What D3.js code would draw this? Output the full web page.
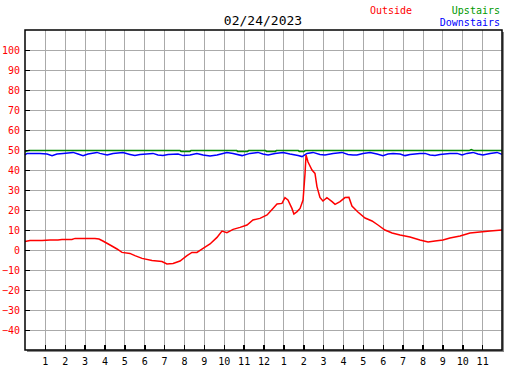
<!DOCTYPE html>
<html>
<head>
<meta charset="utf-8">
<script src="https://cdn.jsdelivr.net/npm/d3@7"></script>
<style>
  body { margin: 0; background: #fff; }
  text { font-family: "DejaVu Sans Mono", monospace; }
  .grid line { stroke: #aaa; stroke-width: 1; shape-rendering: crispEdges; }
  .axis line { stroke: #000; stroke-width: 1.5; shape-rendering: crispEdges; }
  .axis text { font-size: 10px; }
</style>
</head>
<body>
<svg width="527" height="370"></svg>
<script>
// hours of day (0 = midnight) and readings
const hourLabels = [1,2,3,4,5,6,7,8,9,10,11,12,1,2,3,4,5,6,7,8,9,10,11];
const tempTicks = [100,90,80,70,60,50,40,30,20,10,0,-10,-20,-30,-40];

const outsideHours = [0,0.25,0.86,1.26,1.66,1.86,2.36,2.52,3.52,3.72,3.92,4.28,4.63,4.88,5.28,5.53,5.89,6.39,6.89,7.14,7.45,7.8,8.15,8.4,8.65,8.96,9.31,9.66,9.91,10.16,10.47,10.82,11.17,11.47,11.82,12.18,12.43,12.68,12.93,13.08,13.23,13.43,13.53,13.69,13.84,13.99,14.09,14.14,14.24,14.44,14.59,14.69,14.84,14.99,15.19,15.45,15.6,15.85,16.1,16.3,16.45,16.75,17.11,17.46,17.76,18.11,18.47,18.87,19.37,19.87,20.28,20.63,21.03,21.38,21.89,22.39,22.89,23.4,24];
const outsideTemps = [4.2,4.7,4.8,5,5,5.3,5.3,5.8,5.8,5.5,4.5,2.5,0.5,-1.2,-1.7,-2.8,-4.2,-5.3,-5.8,-7,-6.7,-5.5,-2.8,-1.2,-1.2,0.8,3,6.3,9.5,8.7,10.3,11.3,12.5,15,15.8,17.5,20.3,23,23.3,26.2,25,20.8,18,19.2,20.8,25,38.3,47.5,44,40,38.3,31.7,26.3,24.5,26.2,24.2,22.8,24.2,26.2,26.3,22,19,16,14.5,12.5,10,8.5,7.5,6.5,5,4,4.5,5,6,7,8.5,9,9.5,10];

const upstairsHours = [0,0.2,7.8,7.85,8.3,8.35,10.65,10.7,11.2,11.25,12.1,12.15,12.6,12.65,13.75,13.8,14.05,14.1,22.35,22.45,22.6,24];
const upstairsTemps = [49.3,49.7,49.7,49.3,49.3,49.7,49.7,49.3,49.3,49.7,49.7,49.3,49.3,49.7,49.7,49.3,49.3,49.7,49.7,50.2,49.7,49.7];

const downstairsHours = [0,0.1,0.75,1.11,1.36,1.61,1.91,2.42,2.67,2.92,3.17,3.62,3.77,4.13,4.43,4.93,5.28,5.53,5.79,6.44,6.69,6.94,7.2,7.7,7.95,8.3,8.65,8.96,9.31,9.66,10.16,10.47,10.92,11.32,11.72,11.97,12.23,12.58,12.98,13.33,13.74,13.94,14.19,14.49,14.84,15.09,15.5,15.95,16.25,16.5,16.7,17.01,17.36,17.71,18.01,18.26,18.52,18.87,19.12,19.37,19.87,20.13,20.38,20.63,20.88,21.38,21.74,21.99,22.24,22.54,22.79,23.04,23.4,23.75,24];
const downstairsTemps = [47.5,48.3,48.3,48,47.2,48,48.3,48.8,48,47.2,48,48.8,48.3,47.5,48.2,48.7,47.8,47.2,47.8,48.3,47.5,47.2,47.8,48,47.2,47.5,48.3,47.5,47,47.5,48.8,48.3,47.2,48.3,48.8,48,47.5,48.3,48.8,48,47.2,46.7,48.3,48.8,47.8,47.5,48.3,48.8,47.8,47.5,47.5,48.3,48.8,48,47.2,48,48.3,48,47.2,47.8,48.3,48.3,47.5,47.2,47.8,48.3,48.3,47.5,48.3,48.8,48,47.5,48.3,48.8,47.8];

var svg = d3.select("svg"),
    margin = {top: 30, left: 25},
    width = 477,
    height = 320;

var x = d3.scaleLinear().domain([0, 24]).range([0, width]);
var y = d3.scaleLinear().domain([-50, 110]).range([height, 0]);
var hourTicks = d3.range(1, 24);

var g = svg.append("g")
    .attr("transform", "translate(" + margin.left + "," + margin.top + ")");

// shadow + background
g.append("rect").attr("x", 2).attr("y", 2).attr("width", width).attr("height", height).attr("fill", "#888");
g.append("rect").attr("width", width).attr("height", height).attr("fill", "#fff");

// grid
g.append("g").attr("class", "grid")
    .attr("transform", "translate(0," + height + ")")
    .call(d3.axisBottom(x).tickValues(hourTicks).tickSize(-height).tickFormat(""))
    .call(a => a.select(".domain").remove());
g.append("g").attr("class", "grid")
    .call(d3.axisLeft(y).tickValues(tempTicks).tickSize(-width).tickFormat(""))
    .call(a => a.select(".domain").remove());

// series
function series(hours, temps, color) {
  var pts = hours.map((h, i) => [h, temps[i]]);
  g.append("path")
      .datum(pts)
      .attr("fill", "none")
      .attr("stroke", color)
      .attr("stroke-width", 1.5)
      .attr("d", d3.line().x(d => x(d[0])).y(d => y(d[1])));
}
series(upstairsHours, upstairsTemps, "#008800");
series(downstairsHours, downstairsTemps, "#0000ff");
series(outsideHours, outsideTemps, "#ff0000");

// frame
g.append("rect").attr("width", width).attr("height", height)
    .attr("fill", "none").attr("stroke", "#000").attr("stroke-width", 1.5);

// axes
g.append("g").attr("class", "axis")
    .attr("transform", "translate(0," + height + ")")
    .call(d3.axisBottom(x).tickValues(hourTicks).tickSizeInner(-5).tickSizeOuter(0).tickPadding(8)
        .tickFormat((d, i) => hourLabels[i]))
    .call(a => a.select(".domain").remove())
    .selectAll("text").attr("fill", "#000");

g.append("g").attr("class", "axis")
    .call(d3.axisLeft(y).tickValues(tempTicks).tickSizeInner(-5).tickSizeOuter(0).tickPadding(5))
    .call(a => a.select(".domain").remove())
    .selectAll("text").attr("fill", "#ff0000");

// title and legend
svg.append("text").attr("x", 263).attr("y", 25).attr("text-anchor", "middle")
    .style("font-size", "13px").text("02/24/2023");
svg.append("text").attr("x", 370).attr("y", 14).attr("fill", "#ff0000")
    .style("font-size", "10px").text("Outside");
svg.append("text").attr("x", 500).attr("y", 14).attr("text-anchor", "end").attr("fill", "#009900")
    .style("font-size", "10px").text("Upstairs");
svg.append("text").attr("x", 500).attr("y", 26).attr("text-anchor", "end").attr("fill", "#0000ff")
    .style("font-size", "10px").text("Downstairs");
</script>
</body>
</html>
